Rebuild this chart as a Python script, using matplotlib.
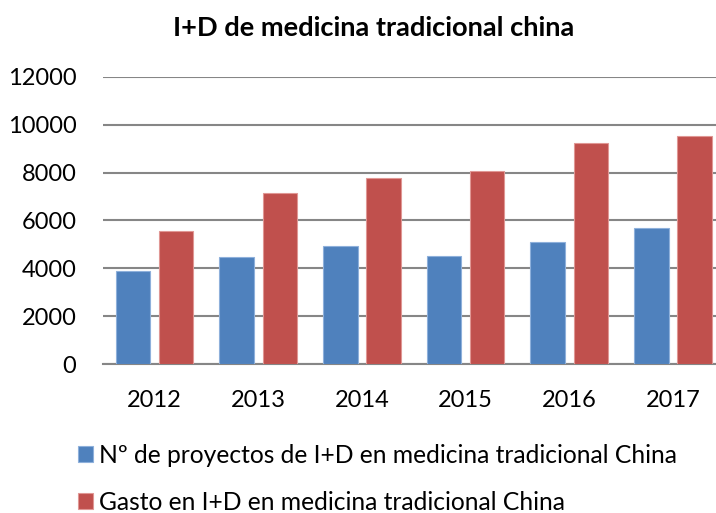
import numpy as np
import matplotlib
matplotlib.use("Agg")
import matplotlib.pyplot as plt

years = ["2012", "2013", "2014", "2015", "2016", "2017"]
proyectos = [3900, 4450, 4950, 4500, 5100, 5700]
gasto = [5550, 7150, 7750, 8070, 9240, 9520]
label_proyectos = "Nº de proyectos de I+D en medicina tradicional China"
label_gasto = "Gasto en I+D en medicina tradicional China"
title = "I+D de medicina tradicional china"

plt.rcParams["font.family"] = ["Lato", "DejaVu Sans"]

fig = plt.figure(figsize=(7.16, 5.13), dpi=100)
ax = fig.add_axes([0.1434, 0.2904, 0.869, 0.560])

x = np.arange(len(years))
width = 0.333
off = 0.208
ax.bar(x - off, proyectos, width, color="#4F81BD", edgecolor="#8EB0DB", linewidth=0.8,
       label=label_proyectos, zorder=3)
ax.bar(x + off, gasto, width, color="#C0504D", edgecolor="#E09794", linewidth=0.8,
       label=label_gasto, zorder=3)

ax.set_xlim(-0.5, len(years) - 0.5)
ax.set_ylim(0, 12000)
ax.set_yticks(range(0, 12001, 2000))
ax.set_xticks(x)
ax.set_xticklabels(years)
ax.yaxis.grid(True, color="#868686", linewidth=1.5, zorder=0)
ax.set_axisbelow(True)
for s in ["top", "right", "left"]:
    ax.spines[s].set_visible(False)
ax.spines["bottom"].set_color("#868686")
ax.spines["bottom"].set_linewidth(1.5)
ax.tick_params(axis="y", length=0, pad=19, labelsize=17)
ax.tick_params(axis="x", length=0, pad=19, labelsize=17)

fig.text(0.5215, 0.946, title, ha="center", va="center", fontsize=19.6, fontweight="bold")

fig.legend(loc="upper left", bbox_to_anchor=(0.109, 0.135), frameon=False, fontsize=17.7,
           handlelength=0.61, handleheight=0.61, handletextpad=0.26, labelspacing=0.97,
           borderaxespad=0, borderpad=0)

fig.savefig("out.png", dpi=100)
